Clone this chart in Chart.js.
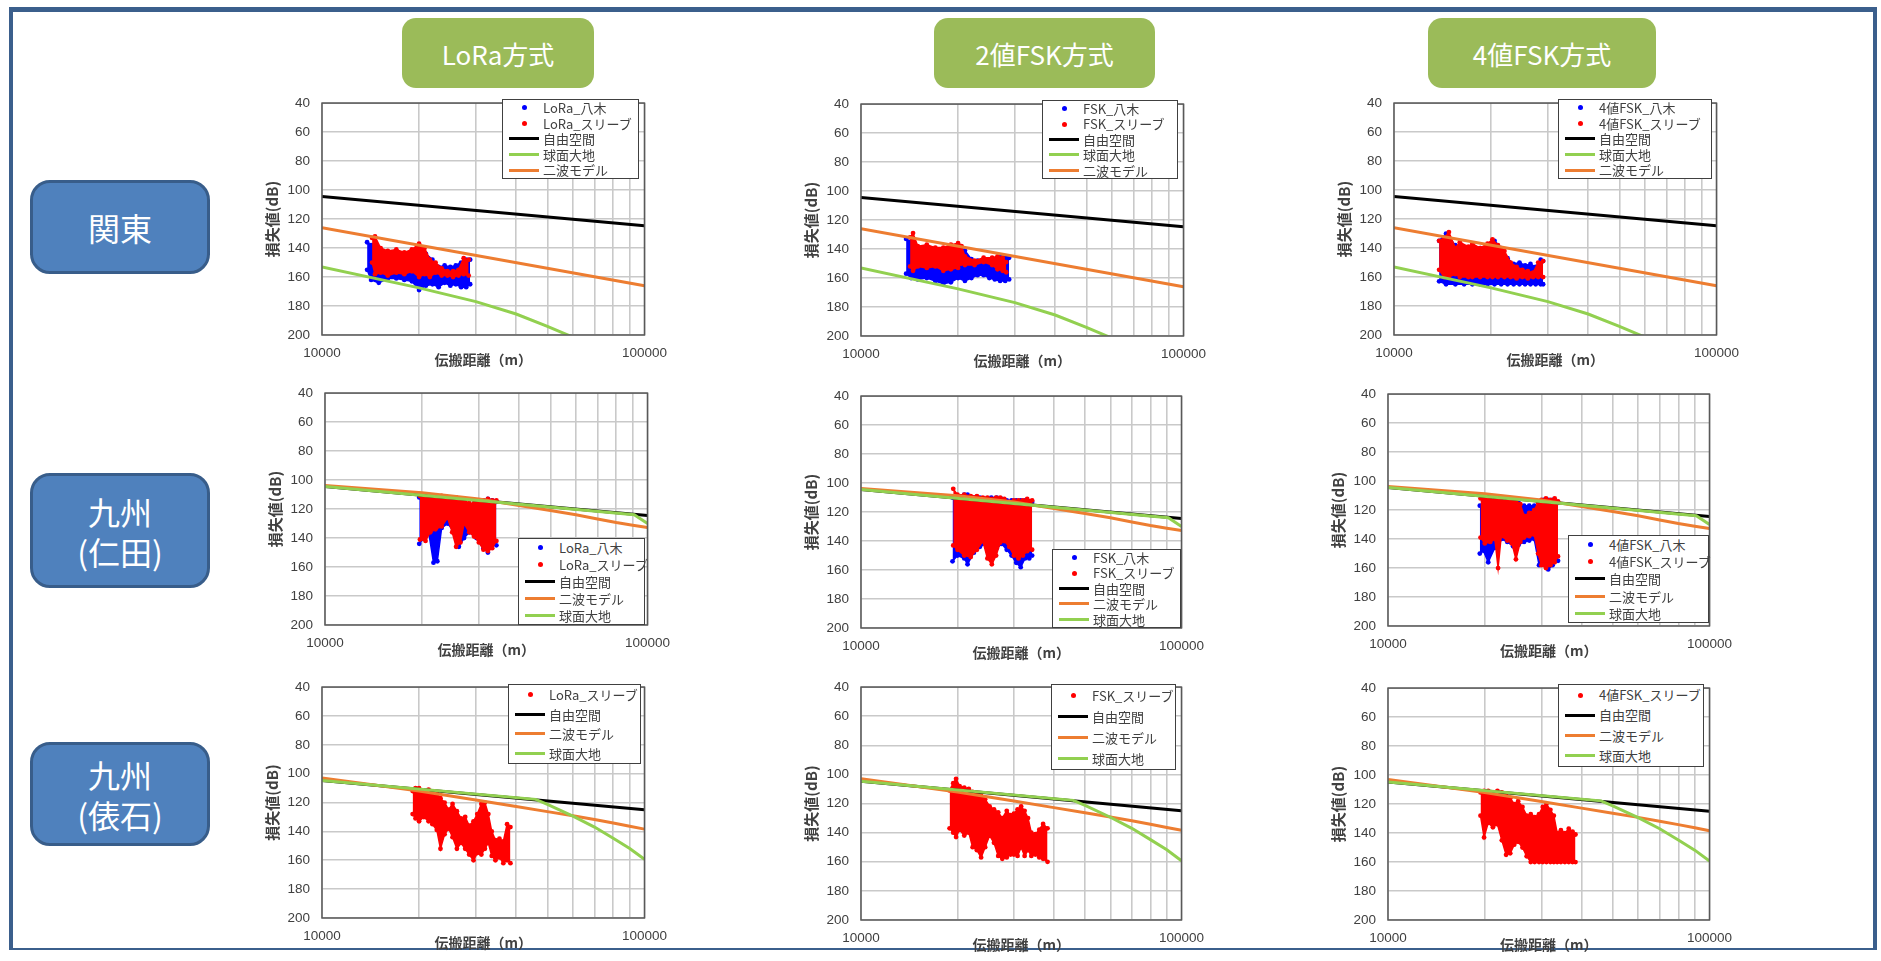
<!DOCTYPE html>
<html lang="ja">
<head>
<meta charset="utf-8">
<title>伝搬損失の比較</title>
<script src="https://cdn.jsdelivr.net/npm/chart.js@4.4.1/dist/chart.umd.min.js"></script>
<style>
  html, body { margin: 0; padding: 0; background: #fff; }
  body {
    width: 1881px; height: 961px; position: relative; overflow: hidden;
    font-family: "Noto Sans CJK JP", "Noto Sans", sans-serif;
  }
  .frame {
    position: absolute; left: 9px; top: 7px; width: 1868px; height: 943px;
    border: solid #3b5f8c; border-width: 5px 4px 2px 4px; box-sizing: border-box;
  }
  .col-title {
    position: absolute; top: 18px; height: 70px; background: #9bbb59;
    border-radius: 14px; color: #fff; font-size: 26px;
    display: flex; align-items: center; justify-content: center;
  }
  .row-title {
    position: absolute; left: 30px; width: 180px; background: #4f81bd;
    border: 3px solid #385d8a; border-radius: 20px; box-sizing: border-box;
    color: #fff; font-size: 32px; line-height: 40px; text-align: center;
    display: flex; flex-direction: column; justify-content: center;
  }
  .panel { position: absolute; z-index: 1; }
  .legend {
    position: absolute; z-index: 2; background: #fff;
    border: 1px solid #404040; box-sizing: border-box;
  }
  .legend-row { position: relative; }
  .mark-line { position: absolute; left: 6px; width: 30px; height: 3px; }
  .mark-dot { position: absolute; left: 19px; width: 5px; height: 5px; border-radius: 50%; }
  .legend-text { position: absolute; left: 40px; top: 0; font-size: 13px; color: #404040; white-space: nowrap; }
</style>
</head>
<body>
<div class="frame"></div>
<div id="stage"></div>
<script>
// ---- axes ----
const X_TICKS = [10000, 20000, 30000, 40000, 50000, 60000, 70000, 80000, 90000, 100000];
const X_LABELLED = [10000, 100000];
const Y_TICKS = [40, 60, 80, 100, 120, 140, 160, 180, 200];

const COLUMN_TITLES = ["LoRa方式", "2値FSK方式", "4値FSK方式"];
const ROW_TITLES = [["関東"], ["九州", "(仁田)"], ["九州", "(俵石)"]];
const SCHEME_NAMES = ["LoRa", "FSK", "4値FSK"];
const CURVE_NAMES = { free: "自由空間", sphere: "球面大地", twoRay: "二波モデル" };
const X_TITLE = "伝搬距離（m）";
const Y_TITLE = "損失値(dB)";

// ---- theory curves [distance m, loss dB] ----
const kantoFree   = [[10000, 104.5], [100000, 124.6]];
const kantoTwoRay = [[10000, 126], [100000, 166]];
const kantoSphere = [[10000, 153], [20000, 167.5], [30000, 177], [40000, 185.5], [50000, 194], [60000, 201.5], [70000, 208]];

const nitaFree   = [[10000, 104.5], [100000, 124.5]];
const nitaTwoRay = [[10000, 103.8], [20000, 108.7], [30000, 113], [40000, 117.5], [50000, 121], [60000, 124],
                    [70000, 126.8], [80000, 129.3], [90000, 131.2], [100000, 132.8]];
const nitaSphere = [[10000, 104.5], [91000, 123.9], [100000, 130]];

const tawaFree   = [[10000, 104.7], [100000, 125]];
const tawaTwoRay = [[10000, 103], [20000, 112], [30000, 118.3], [40000, 122.8], [50000, 126.3], [60000, 129.2],
                    [70000, 131.8], [80000, 134.2], [90000, 136.4], [100000, 138.4]];
const tawaSphere = [[10000, 104.7], [46000, 117.8], [50000, 121.3], [60000, 129.4], [70000, 137],
                    [80000, 144.8], [90000, 151.8], [100000, 159.3]];

// ---- measured clouds [distance m, lowest loss, highest loss] ----
const loraKantoYagi = [[13800,136,155],[14200,138,162],[15000,142,164],[16000,143,161],[17000,143,161],[18000,144,162],
  [19000,145,163],[20000,141,169],[21000,144,166],[22000,148,165],[23000,153,167],[24000,152,164],[25000,153,166],
  [26000,152,165],[27000,150,167],[28000,148,167],[28800,148,165]];
const loraKantoSleeve = [[14300,133,150],[14600,132,158],[15200,140,157],[16000,142,159],[17000,141,157],[18000,143,158],
  [19000,141,156],[20000,137,160],[20800,140,158],[21600,148,160],[22500,150,157],[23500,154,159],[24500,156,159],
  [25500,156,160],[26500,155,159],[27500,147,158],[28500,148,159]];

const fskKantoYagi = [[13800,133,157],[14300,135,160],[15000,140,161],[16000,144,160],[17000,143,162],[18000,146,164],
  [19000,145,163],[20000,142,160],[21000,141,162],[22000,147,160],[23000,148,158],[24000,150,158],[25000,149,160],
  [26000,149,161],[27000,145,162],[28000,145,162],[28800,146,161]];
const fskKantoSleeve = [[14200,132,152],[14500,129,155],[15000,138,152],[16000,137,153],[17000,139,152],[18000,139,155],
  [19000,137,154],[20000,136,153],[20500,138,150],[21000,145,151],[22500,148,151],[24000,146,149],[25500,146,151],
  [26500,145,154],[27500,146,155],[28200,149,156]];

const fsk4KantoYagi = [[13800,135,163],[14500,130,165],[15500,138,165],[16500,140,165],[17500,140,165],[18500,140,165],
  [19500,142,165],[20500,135,165],[21500,140,165],[22500,147,165],[23500,151,165],[24500,150,165],[25500,152,165],
  [26500,151,165],[27500,153,165],[28500,148,165],[29000,149,165]];
const fsk4KantoSleeve = [[13800,135,155],[14300,133,160],[14800,129,160],[15500,140,158],[16000,136,160],[17000,139,160],
  [17500,137,160],[18500,140,160],[19500,137,160],[20200,134,160],[21000,138,160],[22000,142,160],[23000,150,160],
  [24000,153,161],[25000,155,160],[26000,156,161],[27000,157,160],[28000,150,160],[29000,149,160]];

const loraNitaYagi = [[19600,112,144],[20300,112,140],[21000,113,137],[21700,112,157],[22300,112,156],[23000,113,133],
  [24000,113,130],[25000,117,135],[26000,115,146],[27000,116,140],[28000,117,136],[29500,117,140],[31000,114,147],
  [32000,113,150],[33000,114,142],[34000,115,145]];
const loraNitaSleeve = [[19700,111,141],[20500,111,142],[21200,111,136],[22000,112,134],[23000,111,132],[24000,112,126],
  [24800,113,136],[25500,112,146],[26300,113,143],[27000,114,130],[28000,116,136],[29000,116,139],[30000,114,143],
  [31000,114,148],[32000,113,149],[33000,114,147],[34000,114,142]];

const fskNitaYagi = [[19300,110,154],[20000,110,150],[21000,108,152],[21500,108,156],[22500,110,148],[23500,110,144],
  [24500,111,142],[25500,110,147],[26500,110,145],[27500,111,142],[28500,112,146],[29500,112,150],[30500,112,155],
  [31500,112,158],[32500,112,152],[33500,113,152],[34200,113,150]];
const fskNitaSleeve = [[19400,104,143],[20000,108,146],[21000,108,150],[22000,109,151],[23000,109,146],[24000,110,140],
  [24800,110,152],[25600,111,156],[26400,110,150],[27200,110,141],[28000,111,140],[29000,113,144],[30000,112,150],
  [31000,112,152],[32000,112,150],[33000,111,147],[34200,112,146]];

const fsk4NitaYagi = [[19300,117,150],[19800,114,148],[20500,112,156],[21500,114,146],[22500,114,140],[23500,113,142],
  [24500,114,145],[25500,115,144],[26500,117,142],[27500,117,141],[28500,117,140],[29500,117,158],[30500,113,155],
  [31500,113,161],[32500,113,158],[33800,115,155]];
const fsk4NitaSleeve = [[19400,112,139],[20000,111,143],[20800,112,142],[21500,113,140],[22000,113,160],[22500,113,138],
  [23500,113,141],[24300,114,143],[25000,114,154],[25800,116,142],[26500,124,139],[27500,122,138],[28500,120,137],
  [29300,115,150],[30000,113,158],[31000,112,160],[32000,113,158],[33000,112,156],[33800,114,152]];

const loraTawaSleeve = [[19100,112,128],[19500,110,131],[20000,110,133],[20700,112,130],[21400,111,133],[22000,114,135],
  [22700,113,139],[23300,117,152],[24000,120,142],[24700,125,138],[25400,121,144],[26200,126,152],[27000,131,148],
  [27800,130,152],[28600,136,156],[29500,133,160],[30300,128,155],[31200,121,156],[32000,120,152],[32800,128,148],
  [33600,140,157],[34500,146,160],[35500,145,158],[36500,147,162],[37500,135,160],[38400,137,162]];
const fskTawaSleeve = [[18900,111,137],[19400,106,140],[19800,103,143],[20300,108,138],[21000,109,142],[21700,110,140],
  [22300,112,150],[23000,113,152],[23700,113,157],[24400,117,150],[25200,122,142],[26000,124,147],[26800,126,156],
  [27600,130,158],[28500,125,157],[29300,128,155],[30000,127,155],[30800,124,156],[31600,122,150],[32400,125,156],
  [33200,130,152],[34000,140,156],[35000,141,155],[36000,138,157],[37000,134,158],[38200,137,160]];
const fsk4TawaSleeve = [[19400,112,128],[19900,111,143],[20500,111,133],[21200,112,136],[21900,111,134],[22600,112,145],
  [23300,113,155],[24000,116,154],[24700,120,148],[25400,118,146],[26200,122,150],[27000,128,156],[27800,127,160],
  [28600,129,160],[29500,127,160],[30300,122,160],[31100,120,160],[32000,124,160],[32800,128,160],[33600,140,160],
  [34500,138,160],[35500,140,160],[36500,137,160],[37500,139,160],[38300,141,160]];

// ---- style ----
const COLORS = {
  yagi: "#0000ff", sleeve: "#ff0000",
  free: "#000000", sphere: "#92d050", twoRay: "#ed7d31",
  grid: "#c9c9c9", frame: "#595959", text: "#404040",
};
const Y_AXIS_W = 62, PAD_TOP = 10, PAD_RIGHT = 30, X_AXIS_H = 40;

const ROWS = [
  { top: 180, height: 94,  curves: { free: kantoFree, sphere: kantoSphere, twoRay: kantoTwoRay }, legendCurves: ["free", "sphere", "twoRay"] },
  { top: 473, height: 115, curves: { free: nitaFree, sphere: nitaSphere, twoRay: nitaTwoRay },    legendCurves: ["free", "twoRay", "sphere"] },
  { top: 742, height: 104, curves: { free: tawaFree, sphere: tawaSphere, twoRay: tawaTwoRay },    legendCurves: ["free", "twoRay", "sphere"] },
];
const COLUMN_BOXES = [[402, 192], [934, 221], [1428, 228]];

// plot = [left, top, width, height], legend = [left, top, width, height]
const PANELS = [
  { row: 0, col: 0, plot: [322, 93, 325, 242],  legend: [502, 99, 137, 80],   yagi: loraKantoYagi, sleeve: loraKantoSleeve },
  { row: 0, col: 1, plot: [861, 94, 325, 242],  legend: [1042, 100, 136, 79], yagi: fskKantoYagi,  sleeve: fskKantoSleeve },
  { row: 0, col: 2, plot: [1394, 93, 325, 242], legend: [1558, 99, 154, 80],  yagi: fsk4KantoYagi, sleeve: fsk4KantoSleeve },
  { row: 1, col: 0, plot: [325, 383, 325, 242], legend: [518, 538, 127, 87],  yagi: loraNitaYagi,  sleeve: loraNitaSleeve },
  { row: 1, col: 1, plot: [861, 386, 323, 242], legend: [1052, 549, 129, 79], yagi: fskNitaYagi,   sleeve: fskNitaSleeve },
  { row: 1, col: 2, plot: [1388, 384, 324, 242],legend: [1568, 535, 141, 88], yagi: fsk4NitaYagi,  sleeve: fsk4NitaSleeve },
  { row: 2, col: 0, plot: [322, 677, 325, 241], legend: [508, 684, 133, 80],  yagi: null,          sleeve: loraTawaSleeve },
  { row: 2, col: 1, plot: [861, 677, 323, 243], legend: [1051, 684, 125, 86], yagi: null,          sleeve: fskTawaSleeve },
  { row: 2, col: 2, plot: [1388, 678, 324, 242],legend: [1558, 684, 146, 83], yagi: null,          sleeve: fsk4TawaSleeve },
];

Chart.defaults.font.family = '"Noto Sans CJK JP", "Noto Sans", sans-serif';
Chart.defaults.color = COLORS.text;

const stage = document.getElementById("stage");

// Draws the dark box round the plot area
const plotFrame = {
  id: "plotFrame",
  afterDraw(chart) {
    const { ctx, chartArea: a } = chart;
    ctx.save();
    ctx.strokeStyle = COLORS.frame;
    ctx.lineWidth = 1.5;
    ctx.strokeRect(a.left, a.top, a.right - a.left, a.bottom - a.top);
    ctx.restore();
  }
};

// A dense point cloud: upper and lower edge, filled between them
function cloudDatasets(rows, color, order) {
  const style = {
    borderColor: color, backgroundColor: color,
    pointBackgroundColor: color, pointBorderWidth: 0, pointRadius: 2.4,
    borderWidth: 1.5, tension: 0, order,
  };
  return [
    { ...style, data: rows.map(r => ({ x: r[0], y: r[1] })), fill: "+1" },
    { ...style, data: rows.map(r => ({ x: r[0], y: r[2] })), fill: false },
  ];
}

// Theory curves: straight segments between the read-off points
function curveDataset(points, color, order) {
  return {
    data: points.map(p => ({ x: p[0], y: p[1] })),
    borderColor: color, borderWidth: 3, pointRadius: 0, fill: false,
    tension: 0, order,
  };
}

function buildLegend(rect, entries) {
  const box = document.createElement("div");
  box.className = "legend";
  Object.assign(box.style, { left: rect[0] + "px", top: rect[1] + "px", width: rect[2] + "px", height: rect[3] + "px" });
  const rowH = (rect[3] - 2) / entries.length;
  entries.forEach(e => {
    const row = document.createElement("div");
    row.className = "legend-row";
    row.style.height = rowH + "px";
    const mark = document.createElement("span");
    mark.className = e.kind === "dot" ? "mark-dot" : "mark-line";
    mark.style.background = e.color;
    mark.style.top = (rowH / 2 - (e.kind === "dot" ? 2.5 : 1.5)) + "px";
    const txt = document.createElement("span");
    txt.className = "legend-text";
    txt.style.lineHeight = rowH + "px";
    txt.textContent = e.label;
    row.append(mark, txt);
    box.appendChild(row);
  });
  stage.appendChild(box);
}

// Column and row headings
COLUMN_TITLES.forEach((t, i) => {
  const d = document.createElement("div");
  d.className = "col-title";
  d.style.left = COLUMN_BOXES[i][0] + "px";
  d.style.width = COLUMN_BOXES[i][1] + "px";
  d.textContent = t;
  stage.appendChild(d);
});
ROW_TITLES.forEach((lines, i) => {
  const d = document.createElement("div");
  d.className = "row-title";
  d.style.top = ROWS[i].top + "px";
  d.style.height = ROWS[i].height + "px";
  lines.forEach(l => {
    const s = document.createElement("div");
    s.textContent = l;
    d.appendChild(s);
  });
  stage.appendChild(d);
});

PANELS.forEach(p => {
  const [pl, pt, pw, ph] = p.plot;
  const rowCfg = ROWS[p.row];
  const scheme = SCHEME_NAMES[p.col];

  const wrap = document.createElement("div");
  wrap.className = "panel";
  Object.assign(wrap.style, {
    left: (pl - Y_AXIS_W) + "px", top: (pt - PAD_TOP) + "px",
    width: (pw + Y_AXIS_W + PAD_RIGHT) + "px", height: (ph + PAD_TOP + X_AXIS_H) + "px",
  });
  const canvas = document.createElement("canvas");
  wrap.appendChild(canvas);
  stage.appendChild(wrap);

  // Excel draws later series on top: lower order = on top here
  const curveOrder = {};
  rowCfg.legendCurves.forEach((k, i) => { curveOrder[k] = rowCfg.legendCurves.length - 1 - i; });

  const datasets = [...cloudDatasets(p.sleeve, COLORS.sleeve, 5)];
  if (p.yagi) datasets.push(...cloudDatasets(p.yagi, COLORS.yagi, 6));
  rowCfg.legendCurves.forEach(k => datasets.push(curveDataset(rowCfg.curves[k], COLORS[k], curveOrder[k])));

  new Chart(canvas, {
    type: "line",
    data: { datasets },
    options: {
      responsive: true,
      maintainAspectRatio: false,
      animation: false,
      events: [],
      layout: { padding: { top: PAD_TOP, right: PAD_RIGHT, left: 0, bottom: 0 } },
      plugins: { legend: { display: false }, tooltip: { enabled: false } },
      scales: {
        x: {
          type: "logarithmic", min: 10000, max: 100000,
          afterBuildTicks: s => { s.ticks = X_TICKS.map(v => ({ value: v })); },
          afterFit: s => { s.height = X_AXIS_H; },
          ticks: {
            autoSkip: false, maxRotation: 0, padding: 10,
            font: { family: '"Liberation Sans", sans-serif', size: 13.5 },
            callback: v => X_LABELLED.includes(v) ? String(v) : "",
          },
          grid: { color: COLORS.grid, lineWidth: 1.6, drawTicks: false },
          border: { display: false },
          title: {
            display: true, text: X_TITLE, padding: { top: 0, bottom: 7 },
            font: { size: 14, weight: "bold" },
          },
        },
        y: {
          type: "linear", reverse: true, min: 40, max: 200,
          afterBuildTicks: s => { s.ticks = Y_TICKS.map(v => ({ value: v })); },
          afterFit: s => { s.width = Y_AXIS_W; },
          ticks: { padding: 12, font: { family: '"Liberation Sans", sans-serif', size: 13.5 } },
          grid: { color: COLORS.grid, lineWidth: 1.6, drawTicks: false },
          border: { display: false },
          title: {
            display: true, text: Y_TITLE, padding: { top: 3, bottom: 0 },
            font: { size: 15, weight: "bold" },
          },
        },
      },
    },
    plugins: [plotFrame],
  });

  // legend entries, in the same order as the original legend box
  const entries = [];
  if (p.yagi) entries.push({ label: scheme + "_八木", color: COLORS.yagi, kind: "dot" });
  entries.push({ label: scheme + "_スリーブ", color: COLORS.sleeve, kind: "dot" });
  rowCfg.legendCurves.forEach(k => entries.push({ label: CURVE_NAMES[k], color: COLORS[k], kind: "line" }));
  buildLegend(p.legend, entries);
});
</script>
</body>
</html>
